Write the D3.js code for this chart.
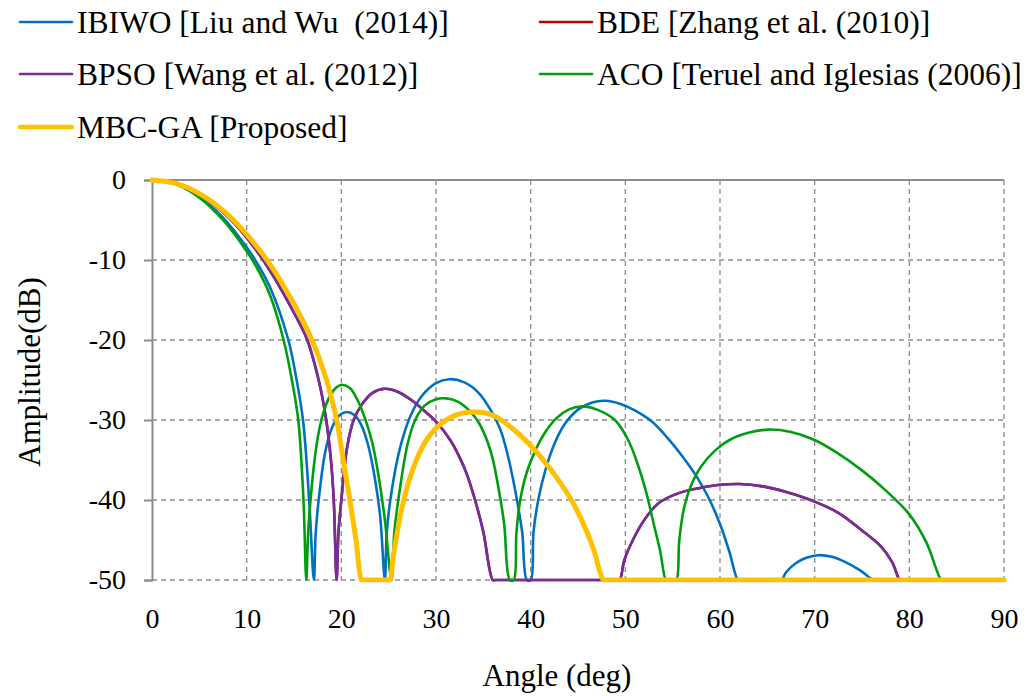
<!DOCTYPE html>
<html><head><meta charset="utf-8">
<script src="https://cdn.jsdelivr.net/npm/d3@7/dist/d3.min.js"></script>
<style>body{margin:0;background:#fff;} svg{display:block;}</style>
</head><body>
<svg id="c" width="1031" height="696"></svg>
<script>
// ---- data (angle deg, amplitude dB) ----
const seriesNames = ["IBIWO [Liu and Wu  (2014)]", "BDE [Zhang et al. (2010)]", "BPSO [Wang et al. (2012)]", "ACO [Teruel and Iglesias (2006)]", "MBC-GA [Proposed]"];
const seriesColors = ["#0070C0", "#C00000", "#7030A0", "#009E0F", "#FFC000"];
const xTicks = [0, 10, 20, 30, 40, 50, 60, 70, 80, 90];
const yTicks = [0, -10, -20, -30, -40, -50];

const ibiwo = [[0,0],[2.5,-0.5],[5,-2.1],[7.5,-4.7],[10,-8.4],[11,-10.2],[12.5,-13.5],[14.4,-20],[15.2,-24.5],[15.95,-30],[16.6,-40],[17.1,-50],
 [17.3,-44],[17.7,-39],[18.3,-34],[19,-31],[19.8,-29.4],[20.6,-29.0],[21.4,-29.4],[22.1,-30.6],[22.8,-33],[23.5,-37],[24.1,-42],[24.6,-50],
 [24.8,-44],[25.3,-39],[26.2,-33.5],[27.3,-29.5],[28.5,-27],[30,-25.4],[31.4,-24.9],[33,-25.3],[34.5,-26.6],[35.8,-28.8],[36.8,-31.2],[37.6,-34.5],[38.4,-39],[39.1,-44],[39.6,-50],
 [40.0,-50],[40.3,-44],[40.8,-40],[41.5,-36.5],[42.5,-33],[43.6,-30.5],[45,-28.7],[46.5,-27.8],[47.9,-27.6],[49.5,-28],[51,-28.8],[52.8,-30.2],[54.5,-32.3],[56,-34.5],[57.6,-37.2],[58.7,-39.5],[60,-43],[61,-46.5],[61.9,-50],[62.2,-50],
 [66.2,-50],[66.5,-50],[67,-49],[68,-47.9],[69.2,-47.2],[70.4,-46.9],[71.8,-47.1],[73.3,-47.8],[74.8,-48.8],[76.2,-50],[76.5,-50],[90,-50]];
const bpso = [[0,0],[2.5,-0.45],[5,-1.8],[7.5,-4.05],[10,-7.2],[12.5,-11.4],[15,-16.6],[16.4,-20],[17.7,-25.5],[18.4,-30],[18.9,-35],[19.2,-40],[19.5,-50],
 [19.7,-44],[20.0,-40],[20.6,-33.5],[21.3,-30],[22.2,-28],[23.3,-26.6],[24.6,-26.1],[26,-26.5],[27.5,-27.6],[29,-29.1],[30,-30.2],[31.5,-32.5],[33,-36],[34,-39.5],[35,-44],[36,-50],
 [36.3,-50],[49.1,-50],
 [49.4,-50],[49.9,-47.5],[50.8,-45],[52,-42.5],[53.5,-40.4],[55.5,-39.2],[57.9,-38.5],[60,-38.1],[62.1,-38.0],[64.5,-38.3],[67,-39],[70,-40.2],[72.5,-41.6],[75,-43.8],[77,-45.8],[78.2,-47.8],[79,-50],[79.3,-50],[90,-50]];
const bde = [[0,0],[2.5,-0.45],[5,-1.8],[7.5,-4.05],[10,-7.2],[12.5,-11.4],[15,-16.6],[16.4,-20],[17.7,-25.5],[18.4,-30],[18.9,-35],[19.2,-40],[19.5,-50],
 [19.7,-44],[20.0,-40],[20.6,-33.5],[21.3,-30],[22.2,-28],[23.3,-26.6],[24.6,-26.1],[26,-26.5],[27.5,-27.6],[29,-29.1],[30,-30.2],[31.5,-32.5],[33,-36],[34,-39.5],[35,-44],[36,-50],
 [36.3,-50],[49.1,-50],
 [49.4,-50],[49.9,-47.5],[50.8,-45],[52,-42.5],[53.5,-40.4],[55.5,-39.2],[57.9,-38.5],[60,-38.1],[62.1,-38.0],[64.5,-38.3],[67,-39],[70,-40.2],[72.5,-41.6],[75,-43.8],[77,-45.8],[78.2,-47.8],[79,-50],[79.3,-50],[90,-50]];
const aco = [[0,0],[2.5,-0.55],[5,-2.2],[7.5,-5.0],[10,-8.9],[11,-10.8],[12.5,-14.5],[13.9,-20],[14.7,-24.5],[15.45,-30],[16.0,-40],[16.3,-50],
 [16.5,-44],[16.9,-38],[17.4,-33],[18,-29.5],[18.8,-27],[19.5,-25.9],[20.1,-25.6],[20.9,-26],[21.7,-27.5],[22.5,-29.8],[23.3,-33],[24,-37.5],[24.6,-42.5],[25.3,-50],
 [25.6,-44],[26.2,-38.5],[27,-33],[27.8,-30],[28.8,-28.2],[30,-27.4],[31.1,-27.3],[32.3,-27.7],[33.5,-28.8],[34.6,-30.5],[35.8,-34],[36.6,-38.5],[37.2,-43],[37.8,-50],
 [38.2,-50],[38.5,-44],[38.9,-40],[39.6,-36.5],[40.5,-33.8],[41.5,-31.6],[42.7,-29.8],[44,-28.7],[45.4,-28.3],[47,-28.7],[48.9,-30],[50.3,-32.5],[51.3,-35.5],[52.2,-39],[53,-43],[53.7,-46.5],[54.3,-50],
 [54.6,-50],[55.1,-50],
 [55.4,-50],[55.7,-45],[56.2,-41],[57,-38],[58,-35.8],[59.5,-33.8],[61,-32.5],[63,-31.6],[65.1,-31.2],[67.5,-31.5],[70,-32.5],[72.5,-34.2],[75,-36.3],[77.5,-38.8],[80,-41.8],[81.8,-45.3],[83.4,-50],[83.7,-50],[90,-50]];
const mbcga = [[0,0],[2.5,-0.43],[5,-1.7],[7.5,-3.8],[10,-6.8],[12.5,-10.6],[15,-15.5],[16.9,-20],[18.3,-24.5],[19.5,-30],[20.2,-35],[20.9,-40],[21.55,-45],[22.15,-50],
 [22.4,-50],[24.8,-50],
 [25.1,-50],[25.5,-47],[26.4,-41],[27.6,-36],[29,-32.5],[30.5,-30.5],[32.3,-29.3],[34.1,-29.0],[36,-29.4],[38,-31],[40,-33.2],[42,-36],[44.3,-40],[45.5,-42.8],[46.6,-46],[47.7,-50],
 [48,-50],[90,-50]];

const seriesData = [ibiwo, bde, bpso, aco, mbcga];
const seriesWidths = [2.6, 2.6, 2.6, 2.6, 5];

// ---- layout ----
const svg = d3.select("#c");
const L = 152, R = 1004, T = 180, B = 580;
const x = d3.scaleLinear().domain([0, 90]).range([L, R]);
const y = d3.scaleLinear().domain([-50, 0]).range([B, T]);
const font = "'Liberation Serif','Times New Roman',serif";

// grid
const g = svg.append("g");
g.selectAll("line.vg").data(xTicks.filter(d => d > 0)).join("line")
  .attr("x1", d => x(d)).attr("x2", d => x(d)).attr("y1", T).attr("y2", B)
  .attr("stroke", "#8c8c8c").attr("stroke-width", 1.3).attr("stroke-dasharray", "5,4");
g.selectAll("line.hg").data(yTicks.filter(d => d < 0)).join("line")
  .attr("x1", L).attr("x2", R).attr("y1", d => y(d)).attr("y2", d => y(d))
  .attr("stroke", "#8c8c8c").attr("stroke-width", 1.3).attr("stroke-dasharray", "5,4");

// y axis
const yAxis = d3.axisLeft(y).tickValues(yTicks).tickSize(8).tickPadding(18).tickFormat(d => String(d));
const ya = svg.append("g").attr("transform", `translate(${L},0)`).call(yAxis);
ya.select(".domain").attr("stroke", "#8c8c8c").attr("stroke-width", 2);
ya.selectAll(".tick line").attr("stroke", "#8c8c8c").attr("stroke-width", 2);
ya.selectAll("text").attr("font-family", font).attr("font-size", 28).attr("fill", "#000");

// x axis line at y=0 (top), labels at bottom
svg.append("line").attr("x1", L).attr("x2", R).attr("y1", y(0)).attr("y2", y(0))
  .attr("stroke", "#8c8c8c").attr("stroke-width", 2);
const xAxis = d3.axisBottom(x).tickValues(xTicks).tickSize(0).tickPadding(28).tickFormat(d => String(d));
const xa = svg.append("g").attr("transform", `translate(0,${B})`).call(xAxis);
xa.select(".domain").remove();
xa.selectAll("text").attr("font-family", font).attr("font-size", 28).attr("fill", "#000");

// axis titles
svg.append("text").attr("x", 557).attr("y", 686).attr("text-anchor", "middle")
  .attr("font-family", font).attr("font-size", 31).text("Angle (deg)");
svg.append("text").attr("transform", `translate(40,${372}) rotate(-90)`).attr("text-anchor", "middle")
  .attr("font-family", font).attr("font-size", 31).text("Amplitude(dB)");

// lines
svg.append("clipPath").attr("id", "clp").append("rect")
  .attr("x", L - 5).attr("y", T - 5).attr("width", R - L + 10).attr("height", B - T + 7.5);
const line = d3.line().x(d => x(d[0])).y(d => y(d[1])).curve(d3.curveCatmullRom.alpha(0.5));
svg.append("g").attr("clip-path", "url(#clp)").selectAll("path").data(seriesData).join("path")
  .attr("d", d => line(d)).attr("fill", "none")
  .attr("stroke", (d, i) => seriesColors[i]).attr("stroke-width", (d, i) => seriesWidths[i])
  .attr("stroke-linejoin", "round").attr("stroke-linecap", "round");

// legend
const legPos = [[20, 22], [540, 22], [20, 74], [540, 74], [20, 127]];
const lg = svg.append("g");
seriesNames.forEach((n, i) => {
  const [lx, ly] = legPos[i];
  lg.append("line").attr("x1", lx).attr("x2", lx + 52).attr("y1", ly).attr("y2", ly)
    .attr("stroke", seriesColors[i]).attr("stroke-width", i === 4 ? 4.5 : 2.6).attr("stroke-linecap", "round");
  lg.append("text").attr("x", lx + 57).attr("y", ly + 11).attr("font-family", font)
    .attr("font-size", 31.5).attr("fill", "#000").style("white-space", "pre").text(n);
});
</script>
</body></html>
